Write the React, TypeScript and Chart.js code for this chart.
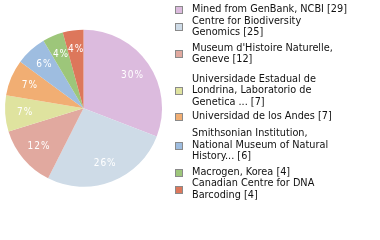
import React, { useEffect, useRef } from "react";
import { Chart, registerables } from "chart.js";

Chart.register(...registerables);

const categories: string[][] = [
  ["Mined from GenBank, NCBI"],
  ["Centre for Biodiversity", "Genomics"],
  ["Museum d'Histoire Naturelle,", "Geneve"],
  ["Universidade Estadual de", "Londrina, Laboratorio de", "Genetica ..."],
  ["Universidad de los Andes"],
  ["Smithsonian Institution,", "National Museum of Natural", "History..."],
  ["Macrogen, Korea"],
  ["Canadian Centre for DNA", "Barcoding"],
];

const counts: number[] = [29, 25, 12, 7, 7, 6, 4, 4];

const colors: string[] = [
  "#dcbbde",
  "#cedbe7",
  "#e1a99f",
  "#dfe39f",
  "#f1ae73",
  "#9ebde0",
  "#9dc67a",
  "#dd775b",
];

const FONT = `"DejaVu Sans Condensed", "DejaVu Sans", sans-serif`;

const percentPlugin = {
  id: "percentLabels",
  afterDatasetsDraw(chart: any) {
    const ctx = chart.ctx as CanvasRenderingContext2D;
    const meta = chart.getDatasetMeta(0);
    const data = chart.data.datasets[0].data as number[];
    const total = data.reduce((a, b) => a + b, 0);
    ctx.save();
    ctx.fillStyle = "#ffffff";
    ctx.font = `10px ${FONT}`;
    (ctx as any).letterSpacing = "1px";
    ctx.textAlign = "center";
    ctx.textBaseline = "middle";
    meta.data.forEach((arc: any, i: number) => {
      const p = arc.getProps(["x", "y", "startAngle", "endAngle", "outerRadius"], true);
      const mid = (p.startAngle + p.endAngle) / 2;
      const r = p.outerRadius * 0.75;
      const tx = p.x + Math.cos(mid) * r;
      const ty = p.y + Math.sin(mid) * r;
      const pct = Math.floor((data[i] / total) * 100) + "%";
      ctx.fillText(pct, tx + 0.5, ty);
    });
    ctx.restore();
  },
};

const legendPlugin = {
  id: "sideLegend",
  afterDraw(chart: any) {
    const ctx = chart.ctx as CanvasRenderingContext2D;
    const lineH = 11.5;
    const gaps = [0, 4, 8, 3, 5.5, 4, 0];
    const boxX = 175;
    const boxSize = 7;
    const textX = 192;
    let y = 9.5;
    ctx.save();
    ctx.font = `10.8px ${FONT}`;
    ctx.textBaseline = "middle";
    ctx.textAlign = "left";
    categories.forEach((lines, i) => {
      const full = lines.slice();
      full[full.length - 1] = full[full.length - 1] + ` [${counts[i]}]`;
      const first = y;
      const last = y + (full.length - 1) * lineH;
      const midY = (first + last) / 2;
      const by = Math.round(midY - boxSize / 2) + 0.5;
      ctx.fillStyle = colors[i];
      ctx.fillRect(boxX + 0.5, by, boxSize, boxSize);
      ctx.strokeStyle = "#8a8a8a";
      ctx.lineWidth = 1;
      ctx.strokeRect(boxX + 0.5, by, boxSize, boxSize);
      ctx.fillStyle = "#111111";
      full.forEach((t, k) => {
        ctx.fillText(t, textX, y + k * lineH);
      });
      y = last + lineH + (gaps[i] ?? 0);
    });
    ctx.restore();
  },
};

export default function App() {
  const ref = useRef<HTMLCanvasElement | null>(null);

  useEffect(() => {
    if (!ref.current) return;
    const chart = new Chart(ref.current, {
      type: "pie",
      data: {
        labels: categories.map((l) => l.join(" ")),
        datasets: [
          {
            data: counts,
            backgroundColor: colors,
            borderWidth: 0,
          },
        ],
      },
      options: {
        animation: false,
        responsive: false,
        maintainAspectRatio: false,
        events: [],
        layout: {
          padding: { left: 5, top: 29.5, right: 218, bottom: 53 },
        },
        plugins: {
          legend: { display: false },
          tooltip: { enabled: false },
          title: { display: false },
        },
      },
      plugins: [percentPlugin, legendPlugin],
    });
    return () => chart.destroy();
  }, []);

  return (
    <div style={{ position: "fixed", left: 0, top: 0, width: 380, height: 240, background: "#ffffff" }}>
      <canvas ref={ref} width={380} height={240} style={{ width: 380, height: 240, display: "block" }} />
    </div>
  );
}
